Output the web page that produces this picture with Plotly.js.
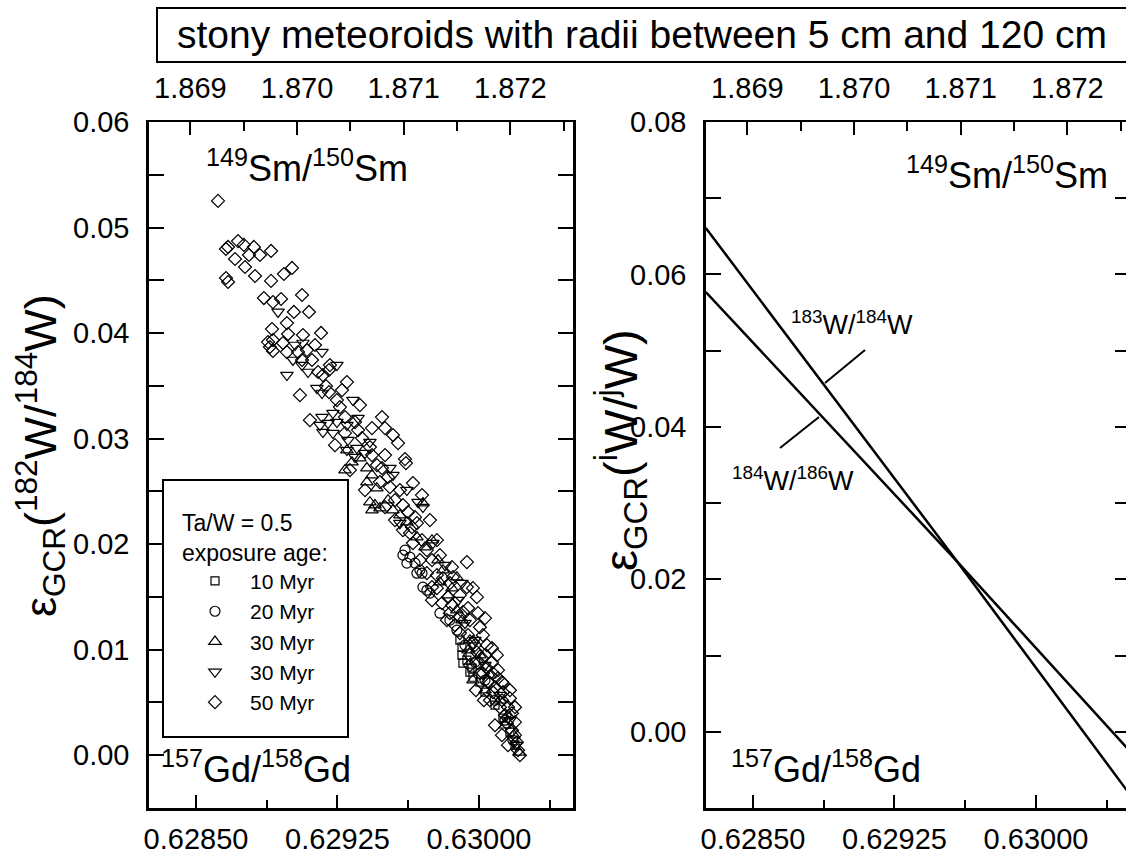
<!DOCTYPE html>
<html>
<head>
<meta charset="utf-8">
<script src="https://cdn.plot.ly/plotly-3.0.1.min.js"></script>
<style>
html,body{margin:0;padding:0;overflow:hidden;background:#fff;}
#chart{width:1140px;height:856px;}
</style>
</head>
<body>
<div id="chart"></div>
<script>
// ---------- DATA ----------
// 10 Myr (squares)
const x10 = [0.629899,0.629910,0.629910,0.629915,0.629936,0.629952,0.629963,0.629968,0.630005,0.630032,0.630085,0.630127,0.630164,0.630191];
const y10 = [0.01090,0.01024,0.00948,0.00872,0.00901,0.00787,0.00825,0.00739,0.00692,0.00597,0.00474,0.00351,0.00218,0.00095];
// 20 Myr (circles)
const x20 = [0.629608,0.629634,0.629597,0.629687,0.629661,0.629703,0.629698,0.629724,0.629618,0.629671,0.629740,0.629793,0.629846,0.629883,0.629926,0.629979,0.630032,0.630085,0.630138,0.630180];
const y20 = [0.01943,0.01877,0.01896,0.01754,0.01820,0.01593,0.01725,0.01564,0.01820,0.01725,0.01536,0.01346,0.01280,0.01185,0.01043,0.00882,0.00711,0.00521,0.00332,0.00142];
// 30 Myr (triangle up)
const x30a = [0.629290,0.629300,0.629369,0.629406,0.629433,0.629406,0.629459,0.629703,0.629422,0.629449,0.629433,0.629475,0.629518,0.629544,0.629581,0.629618,0.629671,0.629714,0.629751,0.629783,0.629809,0.629883,0.629793,0.629857,0.629883,0.629968,0.629327,0.629836,0.629910,0.629952,0.630005,0.630058,0.630111,0.630154,0.630185,0.630212,0.629942,0.630032,0.630138];
const y30a = [0.02702,0.02891,0.02816,0.02721,0.02654,0.02588,0.02531,0.02389,0.02398,0.02370,0.02323,0.02342,0.02417,0.02323,0.02275,0.02209,0.02067,0.01972,0.02038,0.01849,0.01754,0.01687,0.01640,0.01583,0.01375,0.00711,0.02777,0.01517,0.01280,0.01090,0.00948,0.00758,0.00521,0.00379,0.00190,0.00028,0.00995,0.00616,0.00284];
// 30 Myr (triangle down)
const x30b = [0.628935,0.629025,0.629067,0.629168,0.629014,0.629062,0.629094,0.629247,0.628982,0.629141,0.629168,0.629332,0.629168,0.629226,0.629359,0.629157,0.629200,0.629247,0.629300,0.629173,0.629226,0.629306,0.629300,0.629353,0.629396,0.629343,0.629544,0.629677,0.629581,0.629756,0.629910,0.629926,0.629422,0.629528,0.629618,0.629703,0.629820,0.629889,0.629979,0.630032,0.630111,0.630164,0.630196];
const y30b = [0.04200,0.03887,0.03906,0.03820,0.03745,0.03697,0.03631,0.03697,0.03602,0.03479,0.03432,0.03365,0.03204,0.03242,0.03195,0.03128,0.03147,0.03157,0.03128,0.03062,0.03052,0.02986,0.02891,0.02910,0.02863,0.02825,0.02654,0.02398,0.02199,0.02010,0.01631,0.01251,0.02967,0.02721,0.02512,0.02351,0.01801,0.01469,0.01090,0.00853,0.00569,0.00332,0.00095];
// 50 Myr (diamonds)
const x50 = [
0.628617,0.628723,0.628754,0.628807,0.628659,0.628670,0.628898,0.628781,0.628839,0.628707,
0.628760,0.629009,0.628966,0.628813,0.628898,0.628659,0.628670,0.629062,0.628860,0.628908,
0.628951,0.629019,0.629099,0.628982,0.628903,0.628988,0.629067,0.629163,0.628882,0.628908,
0.628892,0.628961,0.628908,0.628982,0.629041,0.629088,0.629131,0.629062,0.629115,0.629147,
0.629210,0.629205,0.629173,0.629300,0.629189,0.629205,0.629274,0.629247,0.629369,0.629263,
0.629290,0.629343,0.629290,0.629359,0.629433,0.629486,0.629502,0.629544,0.629571,0.629380,
0.629422,0.629502,0.629608,0.629433,0.629613,0.629459,0.629486,0.629518,0.629475,0.629528,
0.629581,0.629650,0.629698,0.629740,0.629502,0.629555,0.629597,0.629624,0.629661,0.629645,
0.629671,0.629597,0.629634,0.629698,0.629650,0.629724,0.629777,0.629793,0.629751,0.629857,
0.629724,0.629777,0.629936,0.629751,0.629846,0.629809,0.629862,0.629936,0.629968,0.629989,
0.629899,0.629777,0.629836,0.629804,0.629857,0.629942,0.629995,0.629899,0.629846,0.629952,
0.630005,0.629873,0.629899,0.629942,0.630021,0.629968,0.630042,0.630069,0.629989,0.630016,
0.629952,0.630069,0.630042,0.630005,0.630074,0.630101,0.630048,0.630122,0.630085,0.629995,
0.630021,0.630058,0.630101,0.630127,0.630074,0.630127,0.630164,0.630058,0.630122,0.630164,
0.630111,0.630154,0.630191,0.630138,0.630175,0.630148,0.630191,0.630175,0.630191,0.630201,
0.630207,0.630217,0.629979,0.630032,0.630095,0.629952,0.629984,0.630026,0.630085,0.630122,
0.630154,0.629915,0.630032,0.629830,0.629751,0.629687,0.629555,0.629396,0.629316,0.629237,
0.629104,0.629051];
const y50 = [
0.05252,0.04872,0.04835,0.04816,0.04797,0.04816,0.04778,0.04740,0.04740,0.04702,
0.04626,0.04617,0.04560,0.04541,0.04494,0.04522,0.04484,0.04361,0.04332,0.04294,
0.04323,0.04200,0.04200,0.04095,0.04038,0.03991,0.03982,0.04001,0.03915,0.03934,
0.03868,0.03906,0.03830,0.03820,0.03820,0.03839,0.03887,0.03745,0.03745,0.03631,
0.03697,0.03650,0.03602,0.03536,0.03498,0.03441,0.03460,0.03365,0.03318,0.03299,
0.03204,0.03157,0.03052,0.03081,0.03100,0.03204,0.03100,0.03034,0.02958,0.03005,
0.02920,0.02844,0.02806,0.02844,0.02768,0.02749,0.02721,0.02635,0.02588,0.02541,
0.02512,0.02579,0.02465,0.02228,0.02351,0.02417,0.02370,0.02304,0.02256,0.02161,
0.02199,0.02133,0.02105,0.02038,0.02010,0.01943,0.02038,0.01896,0.01849,0.01782,
0.01725,0.01706,0.01830,0.01593,0.01631,0.01678,0.01687,0.01593,0.01583,0.01498,
0.01517,0.01583,0.01498,0.01441,0.01422,0.01394,0.01346,0.01308,0.01346,0.01280,
0.01213,0.01232,0.01157,0.01138,0.01138,0.01071,0.01043,0.01014,0.00976,0.00920,
0.00853,0.00882,0.00825,0.00777,0.00777,0.00806,0.00692,0.00692,0.00645,0.00872,
0.00777,0.00683,0.00730,0.00683,0.00597,0.00597,0.00616,0.00521,0.00521,0.00540,
0.00455,0.00455,0.00455,0.00379,0.00398,0.00303,0.00313,0.00237,0.00190,0.00123,
0.00047,0.00000,0.01043,0.00948,0.00948,0.00948,0.00616,0.00521,0.00284,0.00190,
0.00095,0.01356,0.01299,0.01280,0.01469,0.01849,0.02228,0.02512,0.02702,0.02938,
0.03175,0.03412];
// Right panel curves
const lineX = [0.62825, 0.62900, 0.62958, 0.63050];
const yW183 = [0.0661, 0.0415, 0.0224, -0.0083];
const yW184 = [0.0577, 0.0378, 0.0224, -0.0026];

const seriesNames = ['10 Myr','20 Myr','30 Myr','30 Myr','50 Myr'];
const mainTitle = 'stony meteoroids with radii between 5 cm and 120 cm';

// ---------- LAYOUT HELPERS ----------
const W = 1140, H = 856;
const PX = v => v / W;
const PY = v => 1 - v / H;
const FONT = 'Liberation Sans, Arial, Helvetica, sans-serif';

function sym(name, x, y, symbol, size) {
  return {type:'scatter', mode:'markers', name:name, x:x, y:y, xaxis:'x', yaxis:'y',
    marker:{symbol:symbol, size:size, color:'black', line:{color:'black', width:1.2}},
    cliponaxis:true, hoverinfo:'skip'};
}

const traces = [
  sym(seriesNames[0], x10, y10, 'square-open', 8),
  sym(seriesNames[1], x20, y20, 'circle-open', 10),
  sym(seriesNames[2], x30a, y30a, 'triangle-up-open', 11),
  sym(seriesNames[3], x30b, y30b, 'triangle-down-open', 11),
  sym(seriesNames[4], x50, y50, 'diamond-open', 10),
  {type:'scatter', mode:'lines', x:lineX, y:yW183, xaxis:'x3', yaxis:'y2', showlegend:false,
    line:{color:'black', width:2.5}, hoverinfo:'skip'},
  {type:'scatter', mode:'lines', x:lineX, y:yW184, xaxis:'x3', yaxis:'y2', showlegend:false,
    line:{color:'black', width:2.5}, hoverinfo:'skip'},
  {type:'scatter', mode:'markers', x:[], y:[], xaxis:'x2', yaxis:'y', showlegend:false},
  {type:'scatter', mode:'markers', x:[], y:[], xaxis:'x4', yaxis:'y2', showlegend:false}
];

const tickFont = {family:FONT, size:29, color:'black'};
function botAxis(dom, anchor) {
  return {domain:dom, anchor:anchor, range:[0.62825, 0.6305], tick0:0.6285, dtick:0.00075,
    tickformat:'.5f', ticks:'inside', ticklen:13, tickwidth:2, tickcolor:'black',
    minor:{tick0:0.6285, dtick:0.000375, ticks:'inside', ticklen:8, tickwidth:2, tickcolor:'black'},
    showline:true, linewidth:2.5, linecolor:'black', mirror:false, showgrid:false, zeroline:false,
    tickfont:tickFont, ticklabelstandoff:4, fixedrange:true};
}
function topAxis(over, anchor) {
  return {overlaying:over, side:'top', anchor:anchor, range:[1.86861, 1.87259], tick0:1.869, dtick:0.001,
    tickformat:'.3f', ticks:'inside', ticklen:13, tickwidth:2, tickcolor:'black',
    minor:{tick0:1.869, dtick:0.0005, ticks:'inside', ticklen:9, tickwidth:2, tickcolor:'black'},
    showline:true, linewidth:2.5, linecolor:'black', showgrid:false, zeroline:false,
    tickfont:tickFont, ticklabelstandoff:10, fixedrange:true};
}
function leftAxis(anchor, range, dtick) {
  return {anchor:anchor, domain:[48/H, 734/H], range:range, tick0:0, dtick:dtick, tickformat:'.2f',
    ticks:'inside', ticklen:15, tickwidth:2, tickcolor:'black',
    minor:{tick0:0, dtick:dtick/2, ticks:'inside', ticklen:15, tickwidth:2, tickcolor:'black'},
    showline:true, linewidth:2.5, linecolor:'black', mirror:'ticks', showgrid:false, zeroline:false,
    tickfont:tickFont, ticklabelstandoff:11, fixedrange:true};
}

const bigLab = {family:FONT, size:36, color:'black'};
const midLab = {family:FONT, size:27, color:'black'};
function ann(text, x, y, font, extra) {
  return Object.assign({text:text, xref:'paper', yref:'paper', x:PX(x), y:PY(y), showarrow:false,
    xanchor:'center', yanchor:'middle', font:font}, extra || {});
}

const layout = {
  width:W, height:H, margin:{l:0, r:0, t:0, b:0},
  paper_bgcolor:'white', plot_bgcolor:'white',
  font:{family:FONT, color:'black'},
  xaxis: botAxis([148.8/W, 573.3/W], 'y'),
  xaxis2: topAxis('x', 'y'),
  yaxis: leftAxis('x', [-0.005, 0.06], 0.01),
  xaxis3: botAxis([705.8/W, 1130.3/W], 'y2'),
  xaxis4: topAxis('x3', 'y2'),
  yaxis2: leftAxis('x3', [-0.01, 0.08], 0.02),
  showlegend:true,
  legend:{x:PX(180), y:PY(501), xanchor:'left', yanchor:'top', bgcolor:'rgba(0,0,0,0)', borderwidth:0,
    font:{family:FONT, size:21, color:'black'}, itemwidth:60, tracegroupgap:0,
    title:{text:'Ta/W = 0.5<br>exposure age:', side:'top', font:{family:FONT, size:23, color:'black'}}},
  shapes:[
    {type:'rect', xref:'paper', yref:'paper', x0:PX(157), x1:PX(1138), y0:PY(62), y1:PY(8),
      line:{color:'black', width:2}},
    {type:'rect', xref:'paper', yref:'paper', x0:PX(163), x1:PX(348), y0:PY(737), y1:PY(480),
      line:{color:'black', width:2}},
    {type:'line', xref:'paper', yref:'paper', x0:PX(865), y0:PY(350), x1:PX(825), y1:PY(383),
      line:{color:'black', width:2}},
    {type:'line', xref:'paper', yref:'paper', x0:PX(819), y0:PY(417), x1:PX(780), y1:PY(448),
      line:{color:'black', width:2}}
  ],
  annotations:[
    ann(mainTitle, 642, 35, {family:FONT, size:39, color:'black'}),
    ann('<sup>149</sup>Sm/<sup>150</sup>Sm', 307, 166, bigLab),
    ann('<sup>157</sup>Gd/<sup>158</sup>Gd', 256, 767, bigLab),
    ann('<sup>149</sup>Sm/<sup>150</sup>Sm', 1007, 173, bigLab),
    ann('<sup>157</sup>Gd/<sup>158</sup>Gd', 826, 767, bigLab),
    ann('<sup>183</sup>W/<sup>184</sup>W', 852, 323, midLab),
    ann('<sup>184</sup>W/<sup>186</sup>W', 793, 479, midLab),
    ann('ε<sub>GCR</sub>(<sup>182</sup>W/<sup>184</sup>W)', 40, 456, {family:FONT, size:45, color:'black'}, {textangle:-90}),
    ann('ε<sub>GCR</sub>(<sup>i</sup>W/<sup>j</sup>W)', 620, 450, {family:FONT, size:47, color:'black'}, {textangle:-90})
  ]
};

Plotly.newPlot('chart', traces, layout, {staticPlot:true, displayModeBar:false});
</script>
</body>
</html>
